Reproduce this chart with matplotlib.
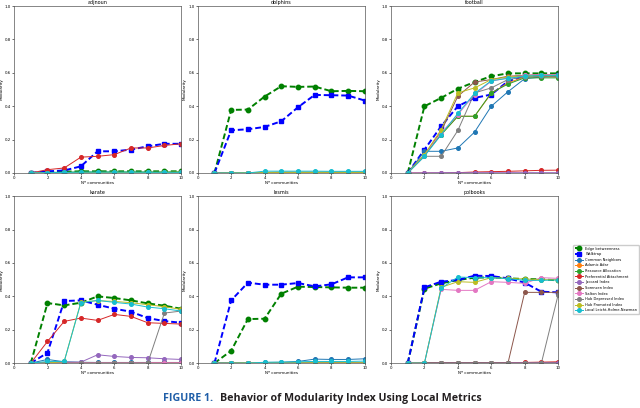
import matplotlib
matplotlib.use("Agg")
import matplotlib.pyplot as plt

n_communities = [1, 2, 3, 4, 5, 6, 7, 8, 9, 10]

methods = ["Edge betweenness", "Walktrap", "Common Neighbors", "Adamic Adar",
           "Resource Allocation", "Preferential Attachment", "Jaccard Index",
           "Sorensen Index", "Salton Index", "Hub Depressed Index",
           "Hub Promoted Index", "Local Leicht-Holme-Newman"]

colors = ["green", "blue", "tab:blue", "tab:orange", "tab:green", "tab:red",
          "tab:purple", "tab:brown", "tab:pink", "tab:gray", "tab:olive", "tab:cyan"]

titles = ["adjnoun", "dolphins", "football", "karate", "lesmis", "polbooks"]

tiny = [0, 0.001, 0.002, 0.002, 0.002, 0.002, 0.002, 0.002, 0.002, 0.002]

# one row per method, same order as `methods`
adjnoun = [
    [0, 0.005, 0.008, 0.01, 0.01, 0.01, 0.01, 0.01, 0.01, 0.01],
    [0, 0.01, 0.015, 0.04, 0.13, 0.13, 0.14, 0.16, 0.175, 0.175],
    [0, 0.002, 0.003, 0.004, 0.004, 0.004, 0.004, 0.004, 0.004, 0.004],
    [0, 0.002, 0.003, 0.003, 0.003, 0.003, 0.003, 0.003, 0.003, 0.003],
    [0, 0.003, 0.005, 0.006, 0.006, 0.006, 0.006, 0.006, 0.006, 0.007],
    [0, 0.02, 0.03, 0.095, 0.10, 0.11, 0.15, 0.15, 0.165, 0.175],
    tiny, tiny, tiny, tiny,
    [0, 0.001, 0.002, 0.002, 0.002, 0.003, 0.003, 0.003, 0.004, 0.005],
    [0, 0.002, 0.003, 0.005, 0.005, 0.005, 0.005, 0.004, 0.004, 0.004],
]

dolphins = [
    [0, 0.378, 0.38, 0.458, 0.52, 0.516, 0.518, 0.49, 0.492, 0.49],
    [0, 0.256, 0.262, 0.276, 0.31, 0.394, 0.468, 0.466, 0.464, 0.434],
    [0, 0, 0, 0.003, 0.004, 0.004, 0.004, 0.004, 0.004, 0.004],
    [0, 0, 0, 0.003, 0.004, 0.004, 0.004, 0.004, 0.004, 0.004],
    [0, 0, 0, 0.003, 0.004, 0.004, 0.004, 0.004, 0.004, 0.004],
    [0, 0, 0, 0.002, 0.003, 0.003, 0.003, 0.003, 0.003, 0.003],
    tiny, tiny, tiny, tiny, tiny,
    [0, 0, 0, 0.011, 0.011, 0.011, 0.011, 0.01, 0.01, 0.01],
]

football = [
    [0, 0.40, 0.45, 0.505, 0.545, 0.58, 0.597, 0.597, 0.597, 0.597],
    [0, 0.14, 0.28, 0.40, 0.45, 0.47, 0.55, 0.58, 0.58, 0.585],
    [0, 0.13, 0.13, 0.15, 0.245, 0.40, 0.487, 0.565, 0.575, 0.58],
    [0, 0.11, 0.23, 0.34, 0.34, 0.477, 0.54, 0.575, 0.578, 0.575],
    [0, 0.11, 0.23, 0.34, 0.34, 0.48, 0.533, 0.57, 0.57, 0.57],
    [0, 0, 0, 0.002, 0.006, 0.008, 0.01, 0.013, 0.016, 0.017],
    tiny,
    [0, 0.11, 0.25, 0.46, 0.545, 0.56, 0.58, 0.585, 0.59, 0.59],
    [0, 0.11, 0.24, 0.35, 0.47, 0.55, 0.57, 0.585, 0.59, 0.59],
    [0, 0.10, 0.10, 0.255, 0.48, 0.51, 0.56, 0.575, 0.58, 0.58],
    [0, 0.11, 0.26, 0.48, 0.51, 0.56, 0.575, 0.58, 0.585, 0.585],
    [0, 0.10, 0.23, 0.357, 0.477, 0.553, 0.567, 0.58, 0.585, 0.585],
]

karate = [
    [0, 0.36, 0.346, 0.362, 0.40, 0.39, 0.376, 0.358, 0.344, 0.326],
    [0, 0.062, 0.372, 0.376, 0.35, 0.326, 0.308, 0.27, 0.252, 0.242],
    [0, 0.022, 0.008, 0.005, 0.004, 0.004, 0.004, 0.004, 0.004, 0.004],
    tiny, tiny,
    [0, 0.13, 0.25, 0.27, 0.256, 0.292, 0.28, 0.242, 0.238, 0.234],
    [0, 0, 0.006, 0.006, 0.05, 0.04, 0.034, 0.032, 0.026, 0.022],
    tiny, tiny,
    [0, 0, 0, 0, 0, 0, 0, 0, 0.30, 0.312],
    [0, 0, 0.01, 0.366, 0.374, 0.37, 0.362, 0.35, 0.338, 0.322],
    [0, 0.01, 0.01, 0.362, 0.376, 0.364, 0.354, 0.336, 0.326, 0.312],
]

lesmis = [
    [0, 0.074, 0.264, 0.266, 0.416, 0.458, 0.456, 0.454, 0.452, 0.452],
    [0, 0.376, 0.482, 0.47, 0.47, 0.48, 0.46, 0.472, 0.514, 0.514],
    [0, 0, 0, 0.004, 0.005, 0.01, 0.024, 0.022, 0.022, 0.026],
    tiny, tiny, tiny, tiny, tiny, tiny, tiny, tiny,
    [0, 0, 0, 0.005, 0.006, 0.008, 0.01, 0.01, 0.01, 0.012],
]

polbooks = [
    [0, 0.446, 0.478, 0.498, 0.512, 0.514, 0.508, 0.504, 0.502, 0.496],
    [0, 0.454, 0.488, 0.498, 0.524, 0.522, 0.508, 0.482, 0.428, 0.424],
    tiny, tiny, tiny,
    [0, 0, 0.002, 0.002, 0.002, 0.002, 0.003, 0.004, 0.006, 0.008],
    tiny,
    [0, 0, 0, 0, 0, 0, 0, 0.424, 0.424, 0.424],
    [0, 0, 0.442, 0.436, 0.436, 0.488, 0.484, 0.478, 0.512, 0.508],
    [0, 0, 0, 0, 0, 0, 0, 0, 0, 0.408],
    [0, 0, 0.454, 0.488, 0.484, 0.512, 0.508, 0.504, 0.5, 0.5],
    [0, 0, 0.448, 0.516, 0.512, 0.512, 0.506, 0.496, 0.496, 0.498],
]

all_data = [adjnoun, dolphins, football, karate, lesmis, polbooks]

fig = plt.figure(figsize=(6.4, 4.08), dpi=100)

lefts = [0.022, 0.309, 0.611]
bottoms = [0.576, 0.110]
w, h = 0.261, 0.409

for k, (title, data) in enumerate(zip(titles, all_data)):
    ax = fig.add_axes([lefts[k % 3], bottoms[k // 3], w, h])
    for i, (name, c) in enumerate(zip(methods, colors)):
        if i < 2:
            ax.plot(n_communities, data[i], color=c, linestyle=(0, (3, 1.5)),
                    marker="o" if i == 0 else "s", markersize=3.2,
                    linewidth=1.4, label=name)
        else:
            ax.plot(n_communities, data[i], color=c, marker="o",
                    markersize=2.6, linewidth=0.7, label=name)
    ax.set_xlim(0, 10)
    ax.set_ylim(0, 1.0)
    ax.set_xticks([0, 2, 4, 6, 8, 10])
    ax.set_yticks([0, 0.2, 0.4, 0.6, 0.8, 1.0])
    ax.set_title(title, fontsize=3.5, pad=1.5)
    ax.set_xlabel("Nº communities", fontsize=3, labelpad=0.5)
    ax.set_ylabel("Modularity", fontsize=3, labelpad=1)
    ax.tick_params(labelsize=2.8, length=1.2, width=0.4, pad=1)
    for s in ax.spines.values():
        s.set_linewidth(0.5)
        s.set_color("#555555")

handles, labels = ax.get_legend_handles_labels()
fig.legend(handles, labels, loc="upper left", bbox_to_anchor=(571 / 640, 1 - 243 / 408),
           fontsize=2.6, frameon=True, framealpha=1, edgecolor="#cccccc",
           handlelength=2.2, borderpad=0.5, labelspacing=0.45, handletextpad=0.8)

cap1 = fig.text(0.254, 0.016, "FIGURE 1.", fontsize=7.7, fontweight="bold",
                color="#1f5ea8", family="Open Sans", ha="left", va="baseline")
fig.canvas.draw()
bb = cap1.get_window_extent()
x2 = bb.x1 / fig.bbox.width + 0.012
fig.text(x2, 0.016, "Behavior of Modularity Index Using Local Metrics", fontsize=7.7,
         fontweight="bold", color="#231f20", family="Open Sans", ha="left", va="baseline")

fig.savefig("out.png", dpi=100)
